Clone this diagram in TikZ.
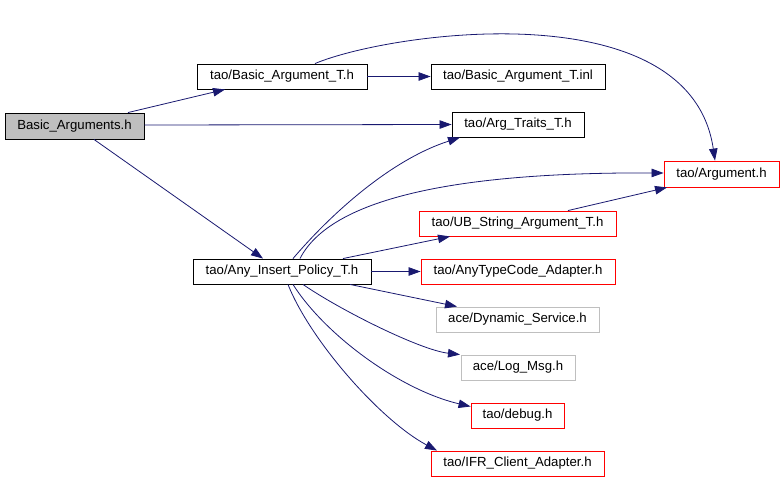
\documentclass[tikz,border=0pt]{standalone}
\usepackage{fontspec}
\setmainfont{Liberation Sans}
\usetikzlibrary{arrows.meta}
\definecolor{edgec}{RGB}{25,25,112}
\definecolor{redb}{RGB}{255,0,0}
\definecolor{greyb}{RGB}{191,191,191}
\begin{document}
\begin{tikzpicture}[x=1pt,y=-1pt,
  box/.style={draw=black, line width=0.9pt, inner sep=0pt, minimum height=25pt,
    font=\fontsize{13.2}{15}\selectfont, text=black},
  redbox/.style={box, draw=redb},
  greybox/.style={box, draw=greyb},
  edge/.style={draw=edgec, line width=0.8pt, -{Triangle[length=12pt,width=8.5pt]}}]
\useasboundingbox (0,0) rectangle (784,480);
\node[box, fill=greyb, minimum width=139pt, minimum height=26pt] (ba) at (74.5,126) {Basic\_Arguments.h};
\node[box, minimum width=170pt] (bat) at (282,76.5) {tao/Basic\_Argument\_T.h};
\node[box, minimum width=174pt] (inl) at (518,76.5) {tao/Basic\_Argument\_T.inl};
\node[box, minimum width=132pt] (at) at (518,124.5) {tao/Arg\_Traits\_T.h};
\node[redbox, minimum width=115pt, minimum height=26pt] (arg) at (721.5,174) {tao/Argument.h};
\node[redbox, minimum width=197pt] (ub) at (517.5,223.5) {tao/UB\_String\_Argument\_T.h};
\node[box, minimum width=178pt] (ai) at (282,271.5) {tao/Any\_Insert\_Policy\_T.h};
\node[redbox, minimum width=194pt] (atc) at (518,271.5) {tao/AnyTypeCode\_Adapter.h};
\node[greybox, minimum width=163pt] (dyn) at (517.5,319.5) {ace/Dynamic\_Service.h};
\node[greybox, minimum width=114pt] (log) at (518,367.5) {ace/Log\_Msg.h};
\node[redbox, minimum width=93pt] (dbg) at (517.5,415.5) {tao/debug.h};
\node[redbox, minimum width=173pt] (ifr) at (517.5,463.5) {tao/IFR\_Client\_Adapter.h};

\draw[edge] ([xshift=53.5pt]ba.north) -- ([xshift=-57pt]bat.south);
\draw[edge] ([yshift=1pt]ba.east) -- (at.west);
\draw[edge] ([xshift=19.5pt]ba.south) -- ([xshift=-19pt]ai.north);
\draw[edge] (bat.east) -- (inl.west);
\draw[edge] ([xshift=33pt]bat.north) .. controls (390,32) and (690,-10) .. ([xshift=-6.5pt]arg.north);
\draw[edge] ([xshift=11pt]ai.north) .. controls (330,215) and (390,160) .. ([xshift=-58pt]at.south);
\draw[edge] ([xshift=18pt]ai.north) .. controls (330,200) and (450,172) .. ([yshift=1pt]arg.west);
\draw[edge] ([xshift=61pt]ai.north) -- ([xshift=-67.5pt]ub.south);
\draw[edge] ([xshift=50.5pt]ub.north) -- ([xshift=-54.5pt]arg.south);
\draw[edge] (ai.east) -- (atc.west);
\draw[edge] ([xshift=68pt]ai.south) -- ([xshift=-60.5pt]dyn.north);
\draw[edge] ([xshift=21pt]ai.south) .. controls (340,310) and (420,350) .. ([xshift=-58pt]log.north);
\draw[edge] ([xshift=11pt]ai.south) .. controls (325,335) and (400,390) .. ([yshift=9pt]dbg.west);
\draw[edge] ([xshift=6pt]ai.south) .. controls (310,340) and (380,420) .. ([xshift=-80.5pt]ifr.north);
\end{tikzpicture}
\end{document}
